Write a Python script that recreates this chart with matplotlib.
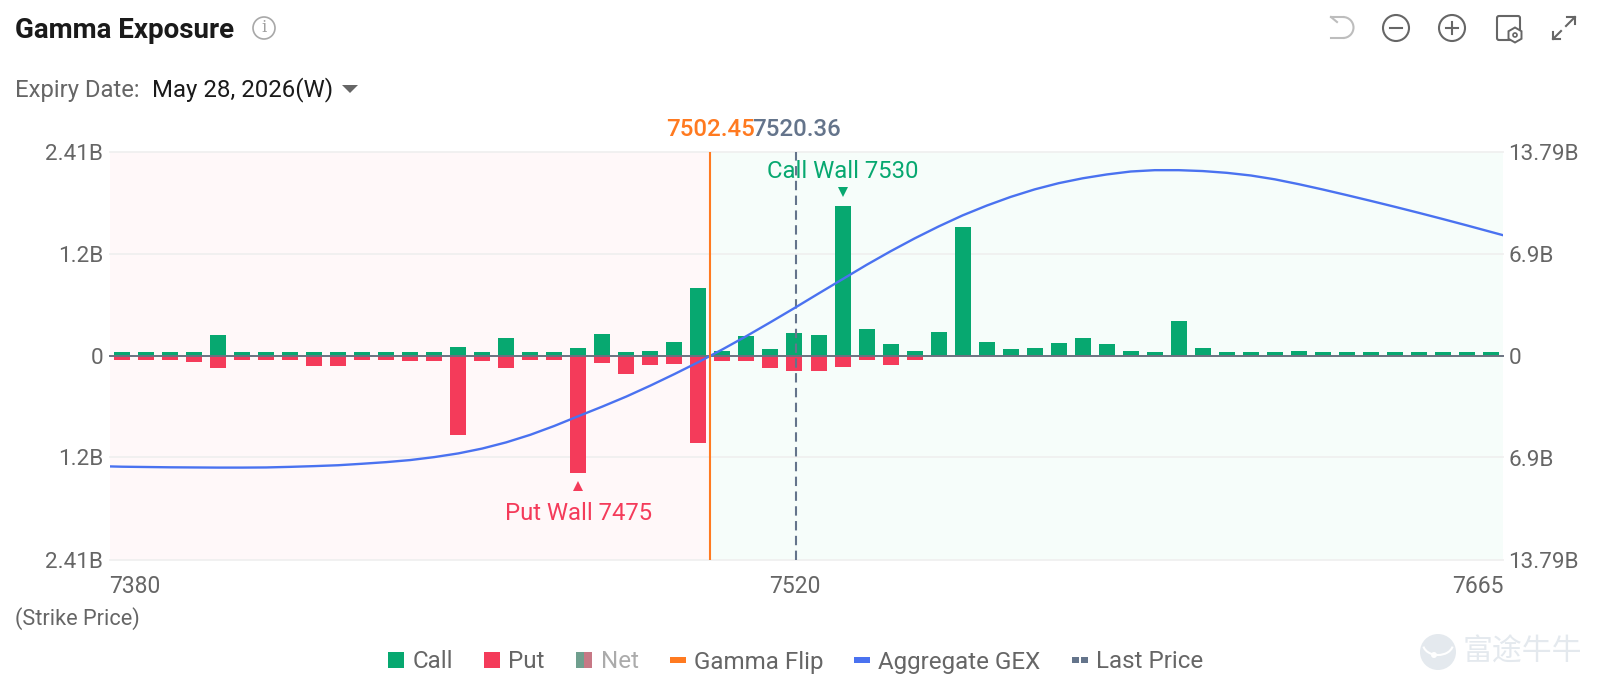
import matplotlib
matplotlib.use("Agg")
import matplotlib.pyplot as plt
from matplotlib.patches import Rectangle, Circle, Arc, RegularPolygon, FancyBboxPatch
from matplotlib.transforms import ScaledTranslation

plt.rcParams['font.family'] = ['Roboto', 'Noto Sans CJK SC', 'DejaVu Sans']

# strikes, one bar each
strikes = list(range(7380, 7670, 5))

# gamma exposure per strike, in billions (left axis)
calls = [0.044, 0.044, 0.044, 0.044, 0.245, 0.044, 0.044, 0.044, 0.044, 0.044,
         0.044, 0.044, 0.044, 0.044, 0.107, 0.047, 0.205, 0.047, 0.047, 0.095,
         0.261, 0.047, 0.059, 0.166, 0.797, 0.059, 0.237, 0.083, 0.269, 0.249,
         1.772, 0.314, 0.139, 0.056, 0.284, 1.524, 0.162, 0.079, 0.091, 0.150,
         0.213, 0.139, 0.056, 0.044, 0.414, 0.095, 0.044, 0.044, 0.044, 0.053,
         0.044, 0.044, 0.044, 0.044, 0.044, 0.044, 0.044, 0.044]
puts = [-0.051, -0.051, -0.051, -0.071, -0.146, -0.051, -0.051, -0.051, -0.118, -0.122,
        -0.051, -0.051, -0.063, -0.063, -0.936, -0.068, -0.139, -0.047, -0.051, -1.386,
        -0.083, -0.221, -0.115, -0.095, -1.030, -0.068, -0.059, -0.142, -0.178, -0.186,
        -0.130, -0.047, -0.110, -0.051, 0, 0, 0, 0, 0, 0,
        0, 0, 0, 0, 0, 0, 0, 0, 0, 0,
        0, 0, 0, 0, 0, 0, 0, 0]

# aggregate GEX curve, in billions (right axis)
curve_strikes = [7377.5] + strikes + [7667.5]
aggregate_gex = [-7.49, -7.51, -7.53, -7.55, -7.56, -7.57, -7.57, -7.56, -7.52, -7.47,
                 -7.41, -7.31, -7.20, -7.06, -6.86, -6.61, -6.28, -5.86, -5.35, -4.75,
                 -4.09, -3.44, -2.76, -2.02, -1.24, -0.43, 0.43, 1.33, 2.27, 3.23,
                 4.21, 5.18, 6.15, 7.07, 7.94, 8.75, 9.50, 10.16, 10.75, 11.26,
                 11.68, 12.01, 12.27, 12.47, 12.56, 12.56, 12.50, 12.38, 12.20, 11.94,
                 11.61, 11.25, 10.87, 10.48, 10.08, 9.67, 9.25, 8.82, 8.38, 8.16]

gamma_flip = 7502.45
last_price = 7520.36
call_wall = 7530
put_wall = 7475

x_ticks = [7380, 7520, 7665]
left_ticks = [-2.41, -1.2, 0, 1.2, 2.41]
left_labels = ['2.41B', '1.2B', '0', '1.2B', '2.41B']
right_ticks = [-13.79, -6.9, 0, 6.9, 13.79]
right_labels = ['13.79B', '6.9B', '0', '6.9B', '13.79B']

GREEN = '#07A870'
RED = '#F43B5A'
ORANGE = '#FF7A20'
BLUE = '#4A72F0'
SLATE = '#64748B'
TEXT = '#666666'
W, H = 1600, 688

fig = plt.figure(figsize=(16, 6.88), dpi=100, facecolor='white')
ax = fig.add_axes([110 / W, 1 - 559.5 / H, 1393 / W, 407.5 / H])
ax.set_xlim(7377.5, 7667.5)
ax.set_ylim(-2.41, 2.41)
ax.axvspan(7377.5, gamma_flip, color='#FFF8F9', lw=0, zorder=0)
ax.axvspan(gamma_flip, 7667.5, color='#F6FDFA', lw=0, zorder=0)
for v in left_ticks:
    ax.axhline(v, color='#F0F0F0', lw=1.3, zorder=1, clip_on=False)
ax.bar(strikes, calls, width=3.33, color=GREEN, zorder=2)
ax.bar(strikes, puts, width=3.33, color=RED, zorder=2)
ax.axhline(0, color='#6B7280', lw=1.4, zorder=3, clip_on=False)

ax.set_xticks(x_ticks, [str(x) for x in x_ticks])
ax.set_yticks(left_ticks, left_labels)
ax.tick_params(axis='x', length=0, pad=11.5, labelsize=16.5, labelcolor=TEXT)
ax.tick_params(axis='y', length=0, pad=5, labelsize=16.2, labelcolor=TEXT)
# end labels sit flush with the plot edges
x_labels = ax.get_xticklabels()
x_labels[0].set_ha('left')
x_labels[0].set_transform(x_labels[0].get_transform() + ScaledTranslation(-0.13, 0, fig.dpi_scale_trans))
x_labels[2].set_ha('right')
x_labels[2].set_transform(x_labels[2].get_transform() + ScaledTranslation(0.13, 0, fig.dpi_scale_trans))
for s in ax.spines.values():
    s.set_visible(False)

ax2 = ax.twinx()
ax2.set_ylim(-13.79, 13.79)
ax2.set_yticks(right_ticks, right_labels)
ax2.tick_params(axis='y', length=0, pad=4, labelsize=16.2, labelcolor=TEXT)
for s in ax2.spines.values():
    s.set_visible(False)
ax2.plot(curve_strikes, aggregate_gex, color=BLUE, lw=1.7, zorder=3)
ax2.axvline(gamma_flip, color=ORANGE, lw=1.5, zorder=4)
ax2.axvline(last_price, color=SLATE, lw=1.5, dashes=(4.5, 2.6), zorder=2)

# wall markers and their labels
ax2.annotate('Call Wall 7530', (call_wall, 0), xycoords=('data', 'axes fraction'), xytext=(0, 279),
             textcoords='offset points', ha='center', va='center', color=GREEN, fontsize=17.2, zorder=6)
ax2.annotate('Put Wall 7475', (put_wall, 0), xycoords=('data', 'axes fraction'), xytext=(0, 33),
             textcoords='offset points', ha='center', va='center', color=RED, fontsize=17.2, zorder=6)
ax.plot([call_wall], [calls[strikes.index(call_wall)] + 0.16], marker='v', ms=6.5, color=GREEN, mew=0, zorder=6)
ax.plot([put_wall], [puts[strikes.index(put_wall)] - 0.16], marker='^', ms=6.5, color=RED, mew=0, zorder=6)

# value labels above the plot
for price, col in ((gamma_flip, ORANGE), (last_price, SLATE)):
    ax.annotate(f'{price:.2f}', (price, 1), xycoords=('data', 'axes fraction'), xytext=(0, 16),
                textcoords='offset points', ha='center', va='center', color=col, fontsize=17.3,
                fontweight='medium', annotation_clip=False)

# overlay in pixel coordinates for header, legend and icons
ui = fig.add_axes([0, 0, 1, 1], facecolor='none')
ui.set_xlim(0, W)
ui.set_ylim(H, 0)
ui.axis('off')

ui.text(15, 30, 'Gamma Exposure', fontsize=20, fontweight='bold', color='#1A1A1A', va='center')
ui.add_patch(Circle((264, 28), 11, fc='none', ec='#A8A8A8', lw=1.2))
ui.text(264, 28, 'i', fontsize=12, color='#A0A0A0', ha='center', va='center', family='DejaVu Serif')
ui.text(15, 90, 'Expiry Date:', fontsize=17.2, color=TEXT, va='center')
ui.text(152, 90, 'May 28, 2026(W)', fontsize=17.3, color='#1A1A1A', va='center')
ui.fill([342, 358, 350], [85, 85, 93], color='#666666', lw=0)

ui.text(15, 619, '(Strike Price)', fontsize=15.7, color=TEXT, va='center')


# legend
def legend_text(x, label, color=TEXT):
    ui.text(x, 662, label, fontsize=17.4, color=color, va='center')


ui.add_patch(Rectangle((388, 652), 16, 16, fc=GREEN, lw=0))
legend_text(412.5, 'Call')
ui.add_patch(Rectangle((484, 652), 16, 16, fc=RED, lw=0))
legend_text(508, 'Put')
ui.add_patch(Rectangle((576, 652), 8, 16, fc='#6F9F8E', lw=0))
ui.add_patch(Rectangle((584, 652), 8, 16, fc='#C77885', lw=0))
legend_text(601, 'Net', '#ABABAB')
ui.add_patch(Rectangle((670, 657), 16, 6, fc=ORANGE, lw=0))
legend_text(694, 'Gamma Flip')
ui.add_patch(Rectangle((854, 657), 16, 6, fc=BLUE, lw=0))
legend_text(878, 'Aggregate GEX')
ui.add_patch(Rectangle((1072, 657), 7, 6, fc=SLATE, lw=0))
ui.add_patch(Rectangle((1081, 657), 7, 6, fc=SLATE, lw=0))
legend_text(1096.5, 'Last Price')

# toolbar icons
ICON = '#666666'
ui.plot([1331, 1343], [17, 17], color='#BDBDBD', lw=1.5)
ui.plot([1331, 1337], [17, 22], color='#BDBDBD', lw=1.5)
ui.plot([1331, 1343], [38, 38], color='#BDBDBD', lw=1.5)
ui.add_patch(Arc((1343, 27.5), 21, 21, theta1=-90, theta2=90, ec='#BDBDBD', lw=1.5))
for cx in (1396, 1452):
    ui.add_patch(Circle((cx, 28), 13, fc='none', ec=ICON, lw=1.5))
    ui.plot([cx - 6, cx + 6], [28, 28], color=ICON, lw=1.5)
ui.plot([1452, 1452], [22, 34], color=ICON, lw=1.5)
ui.add_patch(FancyBboxPatch((1497, 16), 23, 24, boxstyle='round,pad=0,rounding_size=2', fc='none', ec=ICON, lw=1.5))
ui.add_patch(RegularPolygon((1515, 35), 6, radius=7.5, fc='white', ec=ICON, lw=1.4))
ui.add_patch(Circle((1515, 35), 2, fc='none', ec=ICON, lw=1.2))
ui.plot([1553, 1561], [39, 31], color=ICON, lw=1.5)
ui.plot([1553, 1553, 1560], [32, 39, 39], color=ICON, lw=1.5)
ui.plot([1566, 1575], [26, 17], color=ICON, lw=1.5)
ui.plot([1567, 1575, 1575], [17, 17, 24], color=ICON, lw=1.5)

# watermark
ui.add_patch(Circle((1438, 652), 18, fc='#E4E9EE', lw=0))
ui.add_patch(Circle((1434, 655), 3, fc='white', lw=0))
ui.add_patch(Arc((1438, 644), 30, 22, theta1=10, theta2=170, ec='white', lw=1.5))
ui.text(1522, 652, '富途牛牛', fontsize=21.5, color='#E4E9EE', ha='center', va='center',
        family='Noto Sans CJK SC')

fig.savefig('out.png', dpi=100)
